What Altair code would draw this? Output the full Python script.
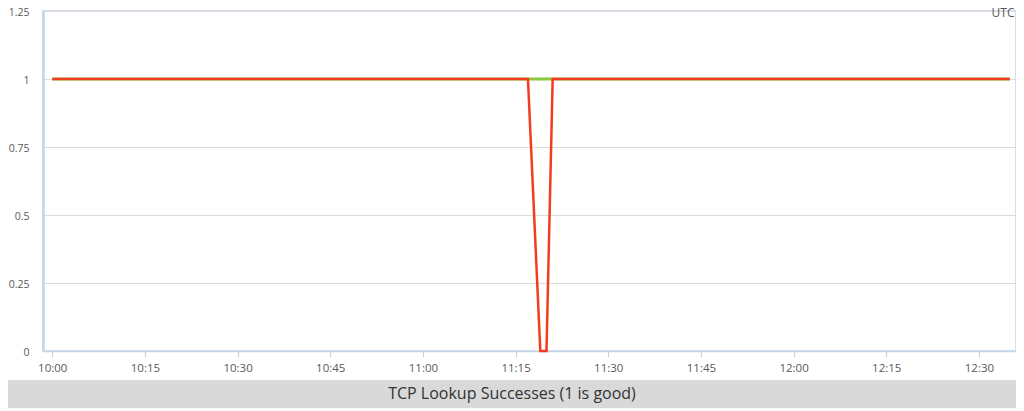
import altair as alt
import pandas as pd

# --- data ---
red_times = ["2024-01-01T10:00:00", "2024-01-01T11:17:00", "2024-01-01T11:19:00",
             "2024-01-01T11:20:00", "2024-01-01T11:21:00", "2024-01-01T12:35:00"]
red_values = [1, 1, 0, 0, 1, 1]
green_times = ["2024-01-01T10:00:00", "2024-01-01T12:35:00"]
green_values = [1, 1]
x_tick_labels = ["10:00", "10:15", "10:30", "10:45", "11:00", "11:15",
                 "11:30", "11:45", "12:00", "12:15", "12:30"]
y_ticks = [0, 0.25, 0.5, 0.75, 1, 1.25]
title_text = "TCP Lookup Successes (1 is good)"
tz_label = "UTC"

red_df = pd.DataFrame({"t": red_times, "v": red_values})
green_df = pd.DataFrame({"t": green_times, "v": green_values})


def dt(hm, s=0):
    h, m = hm.split(":")
    return alt.DateTime(year=2024, month=1, date=1, hours=int(h), minutes=int(m), seconds=s)


FONT = "Open Sans"
AXIS_BLUE = "#c5d5e8"
LABEL = "#595959"
W, H = 973, 340

x_enc = alt.X(
    "t:T",
    scale=alt.Scale(domain=[dt("9:58", 30), dt("12:36")]),
    axis=alt.Axis(format="%H:%M", values=[dt(s) for s in x_tick_labels],
                  grid=False, title=None, domainColor=AXIS_BLUE, domainWidth=1.5,
                  tickColor=AXIS_BLUE, tickSize=6, tickWidth=1.2, labelPadding=5,
                  labelColor=LABEL, labelFont=FONT, labelFontSize=11.5),
)
y_enc = alt.Y(
    "v:Q",
    scale=alt.Scale(domain=[0, 1.25], nice=False),
    axis=alt.Axis(values=y_ticks, labelExpr="format(datum.value, '~g')", grid=True,
                  gridColor="#dcdcdc", gridWidth=1,
                  title=None, domainColor=AXIS_BLUE, domainWidth=2.5, ticks=False,
                  labelPadding=14, labelOffset=1, labelColor=LABEL, labelFont=FONT,
                  labelFontSize=10.5),
)

green = alt.Chart(green_df).mark_line(color="#8cc83c", strokeWidth=3).encode(x=x_enc, y=y_enc)
red = alt.Chart(red_df).mark_line(color="#f43b20", strokeWidth=2.5).encode(x=x_enc, y=y_enc)

banner_df = pd.DataFrame({"label": [title_text]})
banner = alt.Chart(banner_df).mark_rect(color="#d9d9d9").encode(
    x=alt.value(-35), x2=alt.value(W), y=alt.value(369), y2=alt.value(397))
banner_text = alt.Chart(banner_df).mark_text(
    font=FONT, fontSize=16, color="#333333", align="center", baseline="middle").encode(
    x=alt.value(469), y=alt.value(383), text="label:N")

tz_df = pd.DataFrame({"label": [tz_label]})
tz = alt.Chart(tz_df).mark_text(
    font=FONT, fontSize=12, color=LABEL, align="right", baseline="middle").encode(
    x=alt.value(W - 1.5), y=alt.value(1.5), text="label:N")

chart = alt.layer(green, red, banner, banner_text, tz).properties(
    width=W, height=H,
    autosize=alt.AutoSizeParams(type="none"),
    padding={"left": 35, "top": 3, "right": 0, "bottom": 60},
).configure_view(stroke=AXIS_BLUE, strokeWidth=1.5)

chart.save("out.html", embed_options={"renderer": "svg", "actions": False})
